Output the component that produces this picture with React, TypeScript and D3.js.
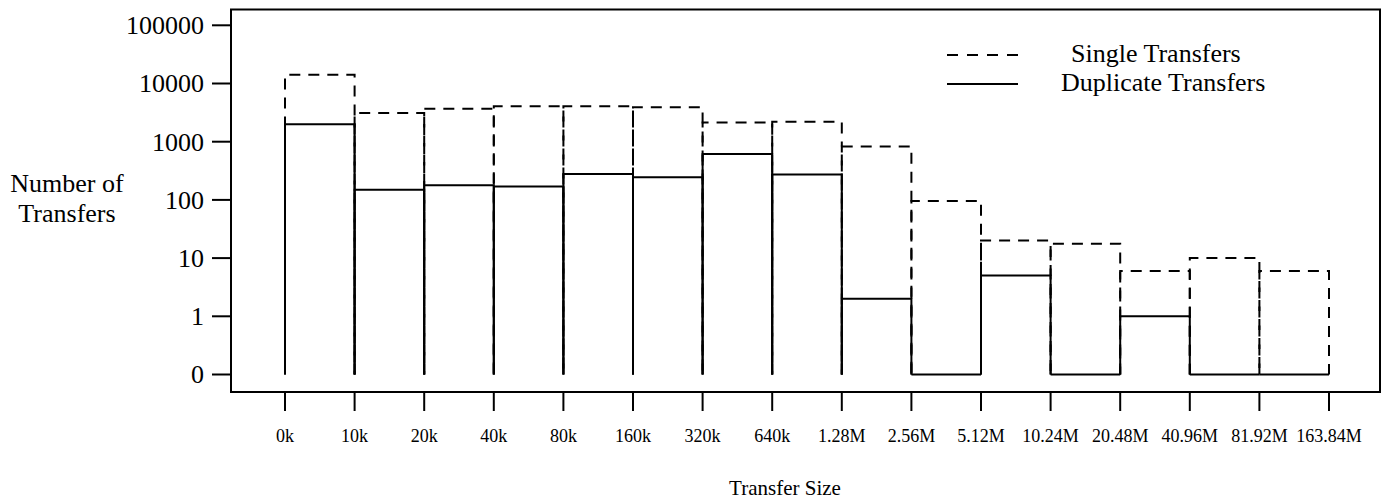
import React from 'react';
import * as d3 from 'd3';

// transfer size bin edges (tick labels)
const sizeLabels = ['0k', '10k', '20k', '40k', '80k', '160k', '320k', '640k', '1.28M', '2.56M', '5.12M', '10.24M', '20.48M', '40.96M', '81.92M', '163.84M'];
// one value per bin (between consecutive edges)
const singleTransfers = [14100, 3100, 3700, 4050, 4050, 3900, 2140, 2200, 830, 96, 20, 17.6, 6, 10, 6];
const duplicateTransfers = [2000, 150, 178, 170, 280, 245, 615, 272, 2, 0, 5, 0, 1, 0, 0];
const yTicks = [0, 1, 10, 100, 1000, 10000, 100000];

const W = 1386;
const H = 502;
const frame = { left: 231, right: 1380, top: 9.5, bottom: 392 };
const font = '"Liberation Serif", "Times New Roman", serif';

// 0 is drawn one decade below 1
const zeroAt = 0.1;

const App = () => {
  const x = d3.scalePoint<string>().domain(sizeLabels).range([285, 1329]);
  const y = d3.scaleLog().domain([zeroAt, 100000]).range([374.5, 25.3]);
  const yv = (v: number) => y(v <= 0 ? zeroAt : v);

  const step = (values: number[]) =>
    values.map((v, i) => {
      const x0 = x(sizeLabels[i]) as number;
      const x1 = x(sizeLabels[i + 1]) as number;
      const p = d3.path();
      p.moveTo(x0, yv(0));
      p.lineTo(x0, yv(v));
      p.lineTo(x1, yv(v));
      p.lineTo(x1, yv(0));
      return p.toString();
    });

  const singlePaths = step(singleTransfers);
  const dupPaths = step(duplicateTransfers);

  return (
    <svg width={W} height={H} style={{ position: 'absolute', left: 0, top: 0, background: '#fff' }} fontFamily={font}>
      <rect x={frame.left} y={frame.top} width={frame.right - frame.left} height={frame.bottom - frame.top}
        fill="none" stroke="#000" strokeWidth={2} />

      {yTicks.map((t) => (
        <g key={t}>
          <line x1={212} x2={frame.left} y1={yv(t)} y2={yv(t)} stroke="#000" strokeWidth={2} />
          <text x={204} y={yv(t)} dy="0.34em" textAnchor="end" fontSize={26}>{t}</text>
        </g>
      ))}

      {sizeLabels.map((s) => (
        <g key={s}>
          <line x1={x(s)} x2={x(s)} y1={frame.bottom} y2={411} stroke="#000" strokeWidth={2} />
          <text x={x(s)} y={442} textAnchor="middle" fontSize={18}>{s}</text>
        </g>
      ))}

      {singlePaths.map((d, i) => (
        <path key={'s' + i} d={d} fill="none" stroke="#000" strokeWidth={2} strokeDasharray="11,8" />
      ))}
      {dupPaths.map((d, i) => (
        <path key={'d' + i} d={d} fill="none" stroke="#000" strokeWidth={2} />
      ))}

      <line x1={947} x2={1018} y1={55} y2={55} stroke="#000" strokeWidth={2} strokeDasharray="11,9" />
      <line x1={947} x2={1018} y1={84} y2={84} stroke="#000" strokeWidth={2} />
      <text x={1071} y={62} fontSize={26}>Single Transfers</text>
      <text x={1061} y={91} fontSize={26}>Duplicate Transfers</text>

      <text x={67} y={192} textAnchor="middle" fontSize={26}>Number of</text>
      <text x={67} y={222} textAnchor="middle" fontSize={26}>Transfers</text>

      <text x={785} y={495} textAnchor="middle" fontSize={21}>Transfer Size</text>
    </svg>
  );
};

export default App;
